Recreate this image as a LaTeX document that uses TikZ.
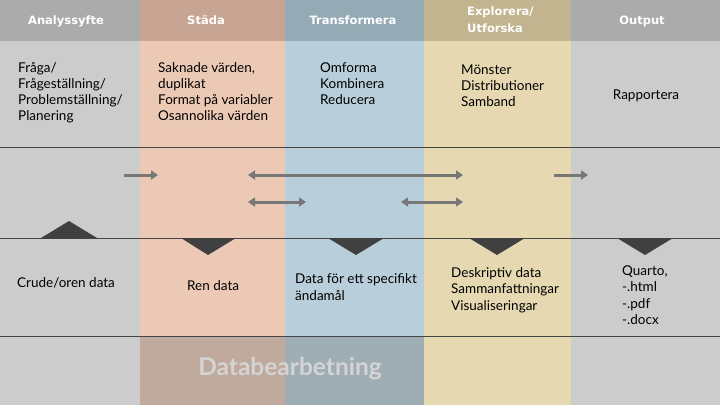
\documentclass[tikz,border=0pt]{standalone}
\usepackage{fontspec}
\setmainfont{Lato}
\newfontfamily\headfont{DejaVu Sans}
\usetikzlibrary{arrows.meta}
\definecolor{hgray}{HTML}{ABABAB}
\definecolor{bgray}{HTML}{CCCCCC}
\definecolor{hpeach}{HTML}{C8A593}
\definecolor{bpeach}{HTML}{ECC9B5}
\definecolor{dpeach}{HTML}{C0A99D}
\definecolor{hblue}{HTML}{94ABB6}
\definecolor{bblue}{HTML}{B8CFDB}
\definecolor{dblue}{HTML}{9FAEB5}
\definecolor{hyellow}{HTML}{C1B48F}
\definecolor{byellow}{HTML}{E6D9B2}
\definecolor{tri}{HTML}{404040}
\definecolor{arr}{HTML}{777777}
\definecolor{rule}{HTML}{454545}
\definecolor{watermark}{HTML}{D4D4D4}
\newcommand\mylines[1]{\begin{tabular}[t]{@{}l@{}}#1\end{tabular}}
\tikzset{
  head/.style={anchor=base, inner sep=0pt, text=white, font=\headfont\bfseries\fontsize{11.5}{17}\selectfont},
  bodytxt/.style={anchor=base west, inner sep=0pt, font=\fontsize{13.5}{16}\selectfont},
  lowtxt/.style={anchor=base west, inner sep=0pt, font=\fontsize{13.5}{16.5}\selectfont},
  flow/.style={draw=arr, line width=3pt, -{Triangle[length=7pt,width=9pt]}},
  flowboth/.style={draw=arr, line width=3pt, {Triangle[length=7pt,width=9pt]}-{Triangle[length=7pt,width=9pt]}},
  marker/.style={fill=tri},
  hline/.style={draw=rule, line width=0.8pt}
}
\begin{document}
\begin{tikzpicture}[x=1pt,y=-1pt]
\useasboundingbox (0,0) rectangle (720,405);
% column bodies
\fill[bgray] (0,0) rectangle (140,405);
\fill[bpeach] (140,0) rectangle (285,405);
\fill[bblue] (285,0) rectangle (424,405);
\fill[byellow] (424,0) rectangle (571,405);
\fill[bgray] (571,0) rectangle (720,405);
% headers
\fill[hgray] (0,0) rectangle (140,41);
\fill[hpeach] (140,0) rectangle (285,41);
\fill[hblue] (285,0) rectangle (424,41);
\fill[hyellow] (424,0) rectangle (571,41);
\fill[hgray] (571,0) rectangle (720,41);
% bottom band
\fill[dpeach] (140,336) rectangle (285,405);
\fill[dblue] (285,336) rectangle (424,405);
% rules
\draw[hline] (0,147) -- (720,147);
\draw[hline] (0,238) -- (720,238);
\draw[hline] (0,336) -- (720,336);
% header texts
\node[head] (h1) at (66,24) {Analyssyfte};
\node[head] (h2) at (206,24) {Städa};
\node[head] (h3) at (353,24) {Transformera};
\node[head, anchor=base west, align=left] (h4) at (467,15) {\mylines{Explorera/\\Utforska}};
\node[head] (h5) at (642,24) {Output};
% body texts
\node[bodytxt] (t1) at (18,72) {\mylines{Fråga/\\Frågeställning/\\Problemställning/\\Planering}};
\node[bodytxt] (t2) at (158,72) {\mylines{Saknade värden,\\duplikat\\Format på variabler\\Osannolika värden}};
\node[bodytxt] (t3) at (320,72) {\mylines{Omforma\\Kombinera\\Reducera}};
\node[bodytxt] (t4) at (461,74) {\mylines{Mönster\\Distributioner\\Samband}};
\node[bodytxt, anchor=base] (t5) at (646,99) {Rapportera};
% arrows
\coordinate (a1s) at (124,175); \coordinate (a1e) at (158,175);
\coordinate (a2s) at (248,175); \coordinate (a2e) at (463,175);
\coordinate (a3s) at (248,202); \coordinate (a3e) at (306,202);
\coordinate (a4s) at (401,202); \coordinate (a4e) at (463,202);
\coordinate (a5s) at (554,175); \coordinate (a5e) at (588,175);
\draw[flow] (a1s) -- (a1e);
\draw[flowboth] (a2s) -- (a2e);
\draw[flowboth] (a3s) -- (a3e);
\draw[flowboth] (a4s) -- (a4e);
\draw[flow] (a5s) -- (a5e);
% markers
\fill[marker] (41,238) -- (69,221) -- (97,238) -- cycle;
\fill[marker] (181,238) -- (208,255) -- (236,238) -- cycle;
\fill[marker] (328,238) -- (356,255) -- (384,238) -- cycle;
\fill[marker] (469,238) -- (497,255) -- (525,238) -- cycle;
\fill[marker] (617,238) -- (645,255) -- (673,238) -- cycle;
% lower texts
\node[lowtxt] (u1) at (17,287) {Crude/oren data};
\node[lowtxt] (u2) at (187,290) {Ren data};
\node[lowtxt, font=\fontsize{13.5}{17.5}\selectfont] (u3) at (295,283) {\mylines{Data för ett specifikt\\ändamål}};
\node[lowtxt] (u4) at (451,277) {\mylines{Deskriptiv data\\Sammanfattningar\\Visualiseringar}};
\node[lowtxt] (u5) at (622,275) {\mylines{Quarto,\\-.html\\-.pdf\\-.docx}};
% watermark
\node[anchor=base, inner sep=0pt, text=watermark, font=\bfseries\fontsize{24.5}{24.5}\selectfont] (wm) at (290,375) {Databearbetning};
\end{tikzpicture}
\end{document}
